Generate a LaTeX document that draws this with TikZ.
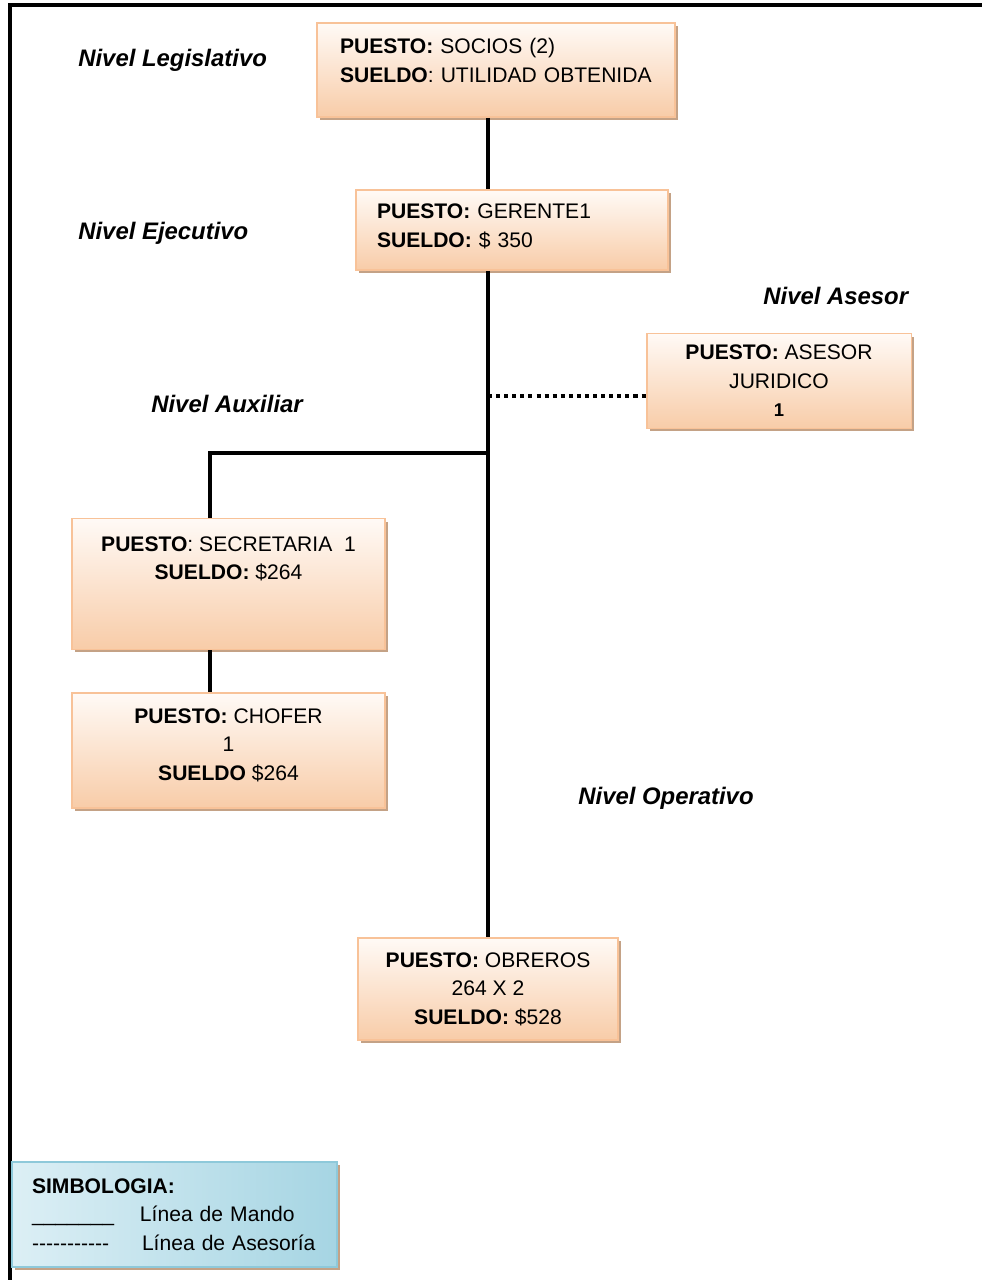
\documentclass[tikz,border=0pt]{standalone}
\usepackage{fontspec}
\setmainfont{Liberation Sans}
\usetikzlibrary{shadows}
\definecolor{durazno}{HTML}{F8CCA8}
\definecolor{duraznoclaro}{HTML}{FFFAF6}
\definecolor{duraznoborde}{HTML}{F8C298}
\definecolor{sombra}{HTML}{C4A286}
\definecolor{celeste}{HTML}{A6D5E3}
\definecolor{celesteclaro}{HTML}{DCEFF5}
\definecolor{celesteborde}{HTML}{8EC9DA}
\begin{document}
\begin{tikzpicture}
    [ x=0.02cm, y=-0.02cm,
      puesto-node/.style = {
        shape=rectangle, draw=duraznoborde, line width=1.1pt,
        top color=duraznoclaro, bottom color=durazno,
        drop shadow={shadow xshift=0.06cm, shadow yshift=-0.06cm,
                     fill=sombra, opacity=1},
        align=center, font=\fontsize{12}{16.2}\selectfont
      },
      simbolo-node/.style = {
        shape=rectangle, draw=celesteborde, line width=1.1pt,
        left color=celesteclaro, right color=celeste,
        drop shadow={shadow xshift=0.06cm, shadow yshift=-0.06cm,
                     fill=sombra, opacity=1},
        align=left, font=\fontsize{12}{16.2}\selectfont
      },
      nivel-txt/.style = {
        anchor=base west, inner sep=0pt,
        font=\fontsize{13.6}{16}\selectfont\bfseries\itshape
      },
      mando/.style = {line width=2.3pt},
      asesoria/.style = {line width=2.3pt, dash pattern=on 2.3pt off 2.3pt},
      marco/.style = {line width=2.4pt}]
      \useasboundingbox (0,0) rectangle (982,1280);
      \draw [marco] (982,5) -- (10,5) -- (10,1280);
      \node [puesto-node, align=left, minimum width=7.16cm, minimum height=1.88cm,
             inner xsep=0.46cm, text width=6.24cm] (socios) at (496,70)
        {\textbf{PUESTO:} SOCIOS (2)\\ \textbf{SUELDO}: UTILIDAD OBTENIDA\\[-5pt]\mbox{}};
      \node [puesto-node, align=left, minimum width=6.24cm, minimum height=1.6cm,
             inner xsep=0.42cm, text width=5.4cm] (gerente) at (512,230)
        {\textbf{PUESTO:} GERENTE1\\ \textbf{SUELDO:} \$ 350\\[-11.5pt]\mbox{}};
      \node [puesto-node, minimum width=5.3cm, minimum height=1.9cm] (asesor) at (779,381)
        {\textbf{PUESTO:} ASESOR\\ JURIDICO\\ {\fontsize{10.5}{14}\selectfont\bfseries 1}};
      \node [puesto-node, minimum width=6.26cm, minimum height=2.62cm] (secretaria) at (228.5,584)
        {\textbf{PUESTO}: SECRETARIA\ \ 1\\ \textbf{SUELDO:} \$264\\[13pt]\mbox{}};
      \node [puesto-node, minimum width=6.26cm, minimum height=2.3cm] (chofer) at (228.5,750.5)
        {\textbf{PUESTO:} CHOFER\\ 1\\ \textbf{SUELDO} \$264\\[-9pt]\mbox{}};
      \node [puesto-node, minimum width=5.2cm, minimum height=2.04cm] (obreros) at (488,989)
        {\textbf{PUESTO:} OBREROS\\ 264 X 2\\ \textbf{SUELDO:} \$528};
      \node [simbolo-node, minimum width=6.5cm, minimum height=2.1cm,
             inner xsep=0.4cm, text width=5.7cm] (simbologia) at (174.5,1214.5)
        {\textbf{SIMBOLOGIA:}\\
         \makebox[2.16cm][l]{\_\_\_\_\_\_\_}Línea de Mando\\
         \makebox[2.2cm][l]{-{}-{}-{}-{}-{}-{}-{}-{}-{}-{}-}Línea de Asesoría};
      \node [nivel-txt] (legislativo) at (78,66.5) {Nivel Legislativo};
      \node [nivel-txt] (ejecutivo) at (78,239.5) {Nivel Ejecutivo};
      \node [nivel-txt] (nasesor) at (763,304.5) {Nivel Asesor};
      \node [nivel-txt] (auxiliar) at (151,412.5) {Nivel Auxiliar};
      \node [nivel-txt] (operativo) at (578,804.5) {Nivel Operativo};
      \coordinate (apoyo) at (489,396);
      \coordinate (rama) at (210,453);
      \draw [mando] (socios.south -| obreros.north) -- (gerente.north -| obreros.north);
      \draw [mando] (gerente.south -| obreros.north) -- (obreros.north);
      \draw [mando] (secretaria.north -| rama) -- (rama) -- (rama -| obreros.north);
      \draw [mando] (secretaria.south -| rama) -- (chofer.north -| rama);
      \draw [asesoria] (apoyo -| obreros.north) -- (apoyo -| asesor.west);
  \end{tikzpicture}
\end{document}
